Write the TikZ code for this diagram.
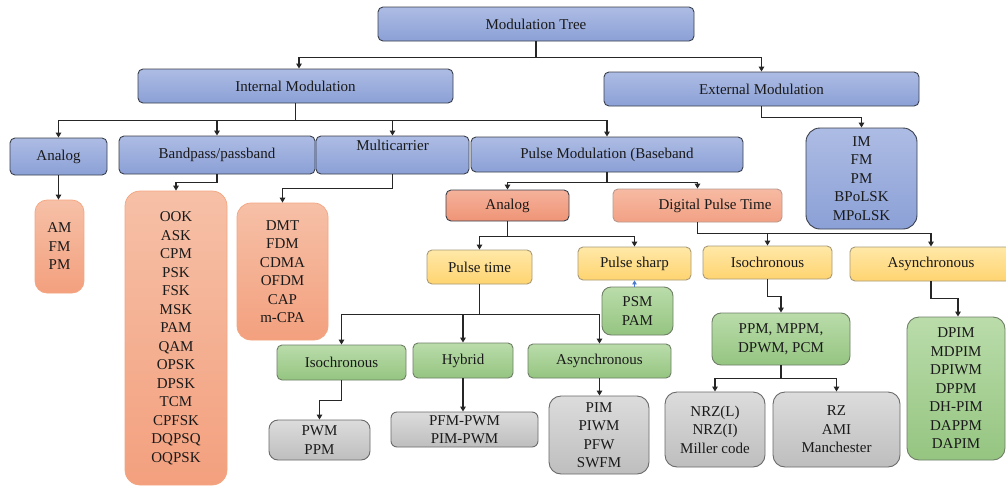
\documentclass[tikz,border=0pt]{standalone}
\usepackage{fontspec}
\setmainfont{Liberation Serif}
\usetikzlibrary{arrows.meta}
\definecolor{txt}{HTML}{1A1A1A}
\definecolor{lineC}{HTML}{262626}
\definecolor{bdark}{HTML}{3A3F4C}
\definecolor{blueT}{HTML}{ADBCE4}
\definecolor{blueB}{HTML}{8BA0D6}
\definecolor{orT}{HTML}{F6C0A7}
\definecolor{orB}{HTML}{F3A07E}
\definecolor{orBd}{HTML}{F4A580}
\definecolor{anT}{HTML}{F5B29B}
\definecolor{anB}{HTML}{EF9476}
\definecolor{dptT}{HTML}{F7BAA3}
\definecolor{dptB}{HTML}{F2A184}
\definecolor{dptBd}{HTML}{B89A90}
\definecolor{yT}{HTML}{FFE8A8}
\definecolor{yB}{HTML}{FFD470}
\definecolor{yBd}{HTML}{A89A78}
\definecolor{gT}{HTML}{BADCAA}
\definecolor{gB}{HTML}{95C581}
\definecolor{gBd}{HTML}{6E7F66}
\definecolor{gyT}{HTML}{DCDCDC}
\definecolor{gyB}{HTML}{BEBEBE}
\definecolor{gyBd}{HTML}{6A6A6A}
\definecolor{tick}{HTML}{4A7BD0}
\begin{document}
\begin{tikzpicture}[x=1pt,y=-1pt,
  base/.style={rounded corners=5pt, line width=0.9pt, inner sep=0pt, align=center,
    font=\fontsize{15}{18.5}\selectfont, text=txt},
  bluebox/.style={base, draw=bdark, top color=blueT, bottom color=blueB},
  bluelist/.style={bluebox, rounded corners=14pt},
  orlist/.style={base, draw=orBd, line width=0.7pt, top color=orT, bottom color=orB, rounded corners=12pt},
  anbox/.style={base, draw=bdark, top color=anT, bottom color=anB},
  dptbox/.style={base, draw=dptBd, top color=dptT, bottom color=dptB},
  ybox/.style={base, draw=yBd, top color=yT, bottom color=yB},
  gbox/.style={base, draw=gBd, top color=gT, bottom color=gB},
  glist/.style={gbox, rounded corners=12pt},
  gybox/.style={base, draw=gyBd, top color=gyT, bottom color=gyB, rounded corners=9pt},
  conn/.style={draw=lineC, line width=1.2pt, -{Triangle[width=5.5pt,length=5pt]}},
]
\clip (0,0) rectangle (1006,485);
\fill[white] (0,0) rectangle (1006,485);

% level 0 / 1
\node[bluebox, minimum width=316pt, minimum height=34pt] (root) at (536,24) {Modulation Tree};
\node[bluebox, minimum width=315pt, minimum height=34pt] (internal) at (295.5,86) {Internal Modulation};
\node[bluebox, minimum width=315pt, minimum height=34pt] (external) at (761.5,89) {External Modulation};

% level 2
\node[bluebox, minimum width=97pt, minimum height=37pt] (analog) at (58.5,156.5) {Analog};
\node[bluebox, minimum width=196pt, minimum height=38pt] (bandpass) at (217,155) {Bandpass/passband};
\node[bluebox, minimum width=153pt, minimum height=38pt] (multi) at (392.5,155) {Multicarrier\\\mbox{}};
\node[bluebox, minimum width=272pt, minimum height=35pt] (pulse) at (607,154.5) {Pulse Modulation (Baseband};
\node[bluelist, minimum width=111pt, minimum height=101pt] (imbox) at (861.5,178.5) {IM\\FM\\PM\\BPoLSK\\MPoLSK};

% lists
\node[orlist, minimum width=49pt, minimum height=93pt] (am) at (59.5,246.5) {AM\\FM\\PM};
\node[orlist, rounded corners=15pt, minimum width=102pt, minimum height=294pt] (ook) at (176,338) {OOK\\ASK\\CPM\\PSK\\FSK\\MSK\\PAM\\QAM\\OPSK\\DPSK\\TCM\\CPFSK\\DQPSQ\\OQPSK};
\node[orlist, rounded corners=14pt, minimum width=91pt, minimum height=137pt] (dmt) at (282.5,271.5) {DMT\\FDM\\CDMA\\OFDM\\CAP\\m-CPA};

% pulse modulation branch
\node[anbox, minimum width=123pt, minimum height=31pt] (analogp) at (507.5,205.5) {Analog};
\node[dptbox, minimum width=169pt, minimum height=33pt] (dpt) at (697.5,205.5) {\hspace*{35pt}Digital Pulse Time};

\node[ybox, minimum width=105pt, minimum height=34pt] (ptime) at (479.5,267) {Pulse time};
\node[ybox, minimum width=113pt, minimum height=33pt] (psharp) at (634.5,263.5) {Pulse sharp};
\node[ybox, minimum width=129pt, minimum height=33pt] (isoy) at (767.5,262.5) {Isochronous};
\node[ybox, minimum width=162pt, minimum height=34pt] (asyncy) at (931,264) {Asynchronous};

\node[gbox, rounded corners=9pt, minimum width=71pt, minimum height=48pt] (psm) at (637.5,311) {PSM\\PAM};
\node[gbox, minimum width=129pt, minimum height=35pt] (isog) at (341.5,362.5) {Isochronous};
\node[gbox, minimum width=100pt, minimum height=35pt] (hybrid) at (463,360.5) {Hybrid};
\node[gbox, minimum width=143pt, minimum height=34pt] (asyncg) at (599.5,361) {Asynchronous};
\node[gbox, rounded corners=9pt, minimum width=138pt, minimum height=52pt] (ppm) at (781,339) {PPM, MPPM,\\DPWM, PCM};
\node[glist, minimum width=98pt, minimum height=143pt] (dpim) at (956,388.5) {DPIM\\MDPIM\\DPIWM\\DPPM\\DH-PIM\\DAPPM\\DAPIM};

\node[gybox, minimum width=101pt, minimum height=40pt] (pwm) at (319.5,440) {PWM\\PPM};
\node[gybox, rounded corners=6pt, minimum width=147pt, minimum height=35pt] (pfm) at (464.5,429.5) {PFM-PWM\\PIM-PWM};
\node[gybox, rounded corners=12pt, minimum width=100pt, minimum height=78pt] (pim) at (599,435) {PIM\\PIWM\\PFW\\SWFM};
\node[gybox, rounded corners=12pt, minimum width=100pt, minimum height=75pt] (nrz) at (715,429.5) {NRZ(L)\\NRZ(I)\\Miller code};
\node[gybox, rounded corners=12pt, minimum width=127pt, minimum height=75pt] (rz) at (836.5,429.5) {RZ\\AMI\\Manchester};

% connectors
\draw[conn] (root.south) -- ++(0,16) -| ([xshift=3.5pt]internal.north);
\draw[conn] (root.south) -- ++(0,16) -| (external.north);

\draw[conn] (internal.south) -- ++(0,17) -| (analog.north);
\draw[conn] (internal.south) -- ++(0,17) -| (bandpass.north);
\draw[conn] (internal.south) -- ++(0,17) -| (multi.north);
\draw[conn] (internal.south) -- ++(0,17) -| (pulse.north);

\draw[conn] (external.south) -- ++(0,11) -| (imbox.north);

\draw[conn] (analog.south) -- (analog.south |- am.north);
\draw[conn] (bandpass.south) -- ++(0,8) -| (ook.north);
\draw[conn] (multi.south) -- ++(0,14) -| (dmt.north);

\draw[conn] (pulse.south) -- ++(0,10) -| (analogp.north);
\draw[conn] (pulse.south) -- ++(0,10) -| (dpt.north);

\draw[conn] (analogp.south) -- ++(0,15) -| (ptime.north);
\draw[conn] (analogp.south) -- ++(0,15) -| (psharp.north);

\draw[conn] (dpt.south) -- ++(0,11) -| (isoy.north);
\draw[conn] (dpt.south) -- ++(0,11) -| (asyncy.north);

\draw[conn] (ptime.south) -- ++(0,30) -| (isog.north);
\draw[conn] (ptime.south) -- ++(0,30) -| (hybrid.north);
\draw[conn] (ptime.south) -- ++(0,30) -| (asyncg.north);

\draw[conn] (isog.south) -- ++(0,20) -| (pwm.north);
\draw[conn] (hybrid.south) -- (hybrid.south |- pfm.north);
\draw[conn] (asyncg.south) -- (asyncg.south |- pim.north);

\draw[conn] (isoy.south) -- ++(0,17) -| (ppm.north);
\draw[conn] (ppm.south) -- ++(0,13) -| (nrz.north);
\draw[conn] (ppm.south) -- ++(0,13) -| (rz.north);

\draw[conn] (asyncy.south) -- ++(0,17) -| ([xshift=2pt]dpim.north);

\draw[draw=tick, line width=0.6pt, -{Triangle[width=4.5pt,length=4pt]}] (psharp.south |- psm.north) -- (psharp.south);
\end{tikzpicture}
\end{document}
